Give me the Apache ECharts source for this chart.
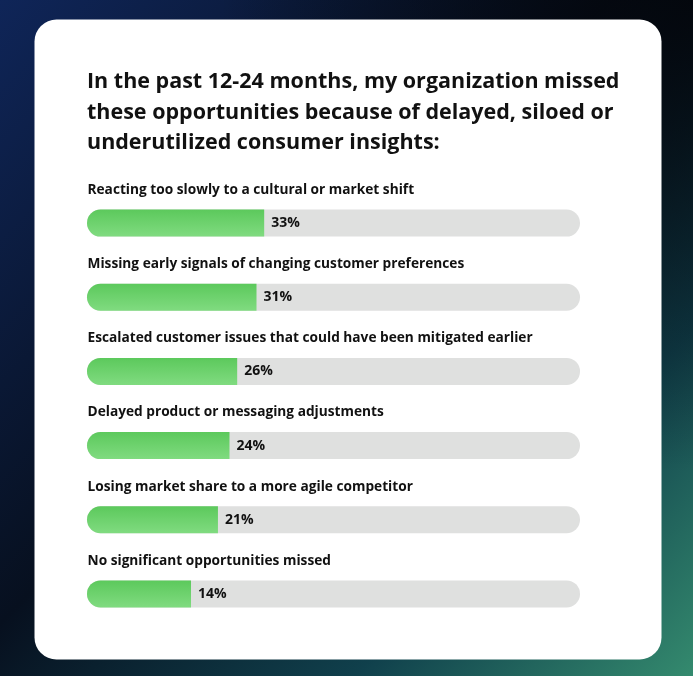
<!DOCTYPE html>
<html lang="en">
<head>
<meta charset="UTF-8">
<title>Missed opportunities</title>
<script src="https://cdn.jsdelivr.net/npm/echarts@6/dist/echarts.min.js"></script>
<style>
  html, body { margin: 0; padding: 0; }
  #main { width: 693px; height: 676px; }
</style>
</head>
<body>
<div id="main"></div>
<script>
// data
const categories = [
  'Reacting too slowly to a cultural or market shift',
  'Missing early signals of changing customer preferences',
  'Escalated customer issues that could have been mitigated earlier',
  'Delayed product or messaging adjustments',
  'Losing market share to a more agile competitor',
  'No significant opportunities missed'
];
const values = [33, 31, 26, 24, 21, 14];

const titleText = 'In the past 12-24 months, my organization missed\nthese opportunities because of delayed, siloed or\nunderutilized consumer insights:';

// the graphic's fill scale does not start at 0 on the track
const axisMin = -13;
const axisMax = 115;

const fontFam = '"Open Sans", Roboto, sans-serif';
const barH = 27;

const chart = echarts.init(document.getElementById('main'));

function renderItem(params, api) {
  const v = api.value(0);
  const idx = api.value(1);
  const start = api.coord([axisMin, idx]);
  const end = api.coord([v, idx]);
  const full = api.coord([axisMax, idx]);
  const y = start[1] - barH / 2;
  const r = barH / 2;
  return {
    type: 'group',
    children: [
      {
        type: 'rect',
        shape: { x: start[0], y: y, width: full[0] - start[0], height: barH, r: r },
        style: { fill: '#dfe0df' }
      },
      {
        type: 'rect',
        shape: { x: start[0], y: y, width: end[0] - start[0], height: barH, r: [r, 0, 0, r] },
        style: {
          fill: new echarts.graphic.LinearGradient(0, 0, 0, 1, [
            { offset: 0, color: '#5cc95c' },
            { offset: 1, color: '#80db80' }
          ])
        }
      },
      {
        type: 'text',
        x: end[0] + 7,
        y: start[1],
        style: {
          text: v + '%',
          fill: '#111',
          font: 'bold 14px ' + fontFam,
          verticalAlign: 'middle'
        }
      },
      {
        type: 'text',
        x: start[0] + 0.5,
        y: start[1] - 33,
        style: {
          text: categories[idx],
          fill: '#111',
          font: 'bold 13.7px ' + fontFam,
          verticalAlign: 'middle'
        }
      }
    ]
  };
}

const option = {
  animation: false,
  graphic: [
    {
      type: 'rect',
      z: -10,
      shape: { x: 0, y: 0, width: 693, height: 676 },
      style: {
        fill: new echarts.graphic.LinearGradient(0, 0, 1, 1, [
          { offset: 0, color: '#0f2558' },
          { offset: 0.45, color: '#07101f' },
          { offset: 0.75, color: '#10404c' },
          { offset: 1, color: '#348a6e' }
        ])
      }
    },
    {
      type: 'rect',
      z: -9,
      shape: { x: 0, y: 0, width: 693, height: 676 },
      style: {
        fill: new echarts.graphic.RadialGradient(1, 0, 0.7, [
          { offset: 0, color: 'rgba(3,5,10,0.9)' },
          { offset: 1, color: 'rgba(3,5,10,0)' }
        ])
      }
    },
    {
      type: 'rect',
      z: -8,
      shape: { x: 34.5, y: 19.5, width: 627, height: 640, r: 22 },
      style: { fill: '#ffffff' }
    }
  ],
  title: {
    text: titleText,
    left: 82,
    top: 62,
    textStyle: {
      fontFamily: fontFam,
      fontSize: 21.5,
      fontWeight: 'bold',
      color: '#111',
      lineHeight: 30.5
    }
  },
  grid: { left: 87, right: 113, top: 186, bottom: 45 },
  xAxis: { type: 'value', min: axisMin, max: axisMax, show: false },
  yAxis: { type: 'category', data: categories, inverse: true, show: false },
  series: [
    {
      type: 'custom',
      renderItem: renderItem,
      encode: { x: 0, y: 1 },
      data: values.map((v, i) => [v, i])
    }
  ]
};

chart.setOption(option);
</script>
</body>
</html>
